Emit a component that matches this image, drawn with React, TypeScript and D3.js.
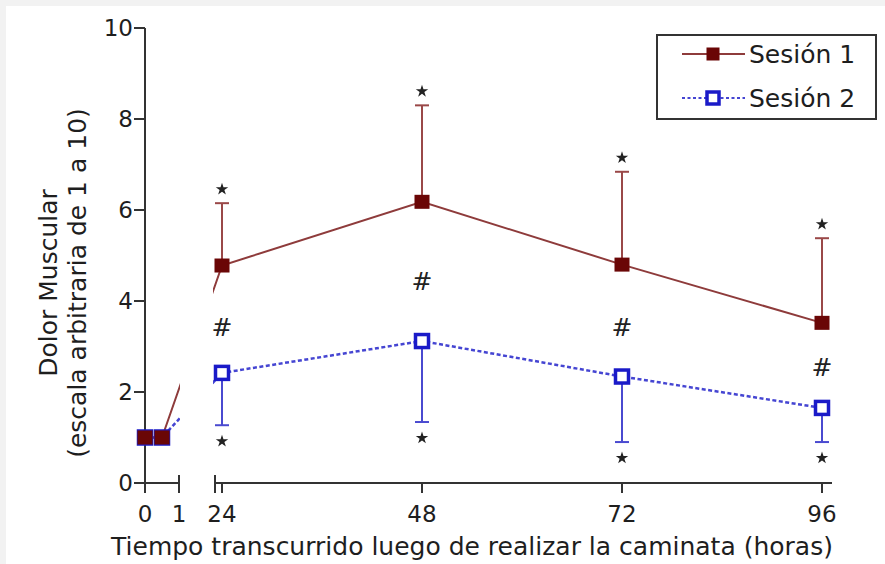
import React from "react";
import * as d3 from "d3";

const hours = [0, 0.5, 24, 48, 72, 96];
const session1 = [1.0, 1.0, 4.78, 6.18, 4.8, 3.52];
const session2 = [1.0, 1.0, 2.42, 3.12, 2.34, 1.65];
const session1Upper = [null, null, 6.15, 8.3, 6.84, 5.38];
const session2Lower = [null, null, 1.27, 1.34, 0.9, 0.9];
const hashHours = [24, 48, 72, 96];
const hashValues = [3.43, 4.45, 3.43, 2.55];
const yTicks = [0, 2, 4, 6, 8, 10];
const xTicksA = [0, 1];
const xTicksB = [24, 48, 72, 96];
const seriesNames = ["Sesión 1", "Sesión 2"];
const xTitle = "Tiempo transcurrido luego de realizar la caminata (horas)";
const yTitle1 = "Dolor Muscular";
const yTitle2 = "(escala arbitraria de 1 a 10)";

const W = 885;
const H = 564;
const FONT = "'DejaVu Sans', Verdana, sans-serif";
const RED_LINE = "#8e3b3b";
const RED_FILL = "#6a0606";
const RED_BAR = "#9a4848";
const BLUE_LINE = "#4545d2";
const BLUE_MARK = "#1a1ac8";
const BLUE_BAR = "#4a4ad0";
const AXIS = "#333";
const TEXT = "#1e1e1e";

export default function App() {
  const x = d3.scaleLinear().domain([0, 1, 24, 96]).range([145, 179, 222, 822]);
  const y = d3.scaleLinear().domain([0, 10]).range([483, 28]);
  const y0 = y(0);

  const pts1 = hours.map((h, i) => [x(h), y(session1[i])] as [number, number]);
  const pts2 = hours.map((h, i) => [x(h), y(session2[i])] as [number, number]);
  const line = d3.line();

  const star = d3.symbol().type(d3.symbolStar).size(48)();
  const mk = 13;

  return (
    <svg
      width={W}
      height={H}
      style={{ position: "absolute", left: 0, top: 0, background: "#fff" }}
      fontFamily={FONT}
    >
      <rect x={0} y={0} width={W} height={6} fill="#f2f2f2" />
      <rect x={0} y={0} width={6} height={H} fill="#f2f2f2" />
      <defs>
        <clipPath id="gapclip">
          <rect x={0} y={0} width={180} height={H} />
          <rect x={213} y={0} width={W} height={H} />
        </clipPath>
      </defs>

      {/* Y axis */}
      <line x1={x(0)} x2={x(0)} y1={y(10)} y2={y0 + 10} stroke={AXIS} strokeWidth={2} />
      {yTicks.map((t) => (
        <g key={"yt" + t}>
          <line x1={x(0) - 11} x2={x(0)} y1={y(t)} y2={y(t)} stroke={AXIS} strokeWidth={2} />
          <text x={x(0) - 12} y={y(t)} dy="0.36em" textAnchor="end" fontSize={23} fill={TEXT}>
            {t}
          </text>
        </g>
      ))}

      {/* X axis segment A */}
      <line x1={x(0)} x2={x(1)} y1={y0} y2={y0} stroke={AXIS} strokeWidth={2} />
      <line x1={x(1)} x2={x(1)} y1={y0 - 8} y2={y0 + 10} stroke={AXIS} strokeWidth={2} />
      {/* X axis segment B */}
      <line x1={215} x2={832} y1={y0} y2={y0} stroke={AXIS} strokeWidth={2} />
      <line x1={215} x2={215} y1={y0 - 8} y2={y0 + 10} stroke={AXIS} strokeWidth={2} />
      {xTicksB.map((t) => (
        <line key={"xt" + t} x1={x(t)} x2={x(t)} y1={y0} y2={y0 + 10} stroke={AXIS} strokeWidth={2} />
      ))}
      {[...xTicksA, ...xTicksB].map((t) => (
        <text key={"xl" + t} x={x(t)} y={522} textAnchor="middle" fontSize={23} fill={TEXT}>
          {t}
        </text>
      ))}

      {/* Axis titles */}
      <text x={472} y={555} textAnchor="middle" fontSize={25} fill={TEXT}>
        {xTitle}
      </text>
      <text transform="translate(48,283) rotate(-90)" textAnchor="middle" dy="0.35em" fontSize={25} fill={TEXT}>
        {yTitle1}
      </text>
      <text transform="translate(77,283) rotate(-90)" textAnchor="middle" dy="0.35em" fontSize={25} fill={TEXT}>
        {yTitle2}
      </text>

      {/* Error bars */}
      {hours.map((h, i) =>
        session1Upper[i] == null ? null : (
          <g key={"e1" + i}>
            <line x1={x(h)} x2={x(h)} y1={y(session1[i])} y2={y(session1Upper[i] as number)} stroke={RED_BAR} strokeWidth={2} />
            <line x1={x(h) - 7} x2={x(h) + 7} y1={y(session1Upper[i] as number)} y2={y(session1Upper[i] as number)} stroke={RED_BAR} strokeWidth={2} />
            <path d={star as string} transform={`translate(${x(h)},${y(session1Upper[i] as number) - 14})`} fill="#222" />
          </g>
        )
      )}
      {hours.map((h, i) =>
        session2Lower[i] == null ? null : (
          <g key={"e2" + i}>
            <line x1={x(h)} x2={x(h)} y1={y(session2[i])} y2={y(session2Lower[i] as number)} stroke={BLUE_BAR} strokeWidth={2} />
            <line x1={x(h) - 7} x2={x(h) + 7} y1={y(session2Lower[i] as number)} y2={y(session2Lower[i] as number)} stroke={BLUE_BAR} strokeWidth={2} />
            <path d={star as string} transform={`translate(${x(h)},${y(session2Lower[i] as number) + 16})`} fill="#222" />
          </g>
        )
      )}

      {/* Hash marks */}
      {hashHours.map((h, i) => (
        <text key={"h" + h} x={x(h)} y={y(hashValues[i])} dy="0.36em" textAnchor="middle" fontSize={25} fill="#222">
          #
        </text>
      ))}

      {/* Lines */}
      <g clipPath="url(#gapclip)">
        <path d={line(pts2) as string} fill="none" stroke={BLUE_LINE} strokeWidth={2.5} strokeDasharray="4,2.5" />
        <path d={line(pts1) as string} fill="none" stroke={RED_LINE} strokeWidth={2} />
      </g>

      {/* Markers session 2 (under) */}
      {pts2.map(([px, py], i) => (
        <rect key={"m2" + i} x={px - mk / 2} y={py - mk / 2} width={mk} height={mk} fill="#fff" stroke={BLUE_MARK} strokeWidth={3.5} />
      ))}
      {/* Markers session 1 */}
      {pts1.map(([px, py], i) => (
        <rect key={"m1" + i} x={px - 7.5} y={py - 7} width={15} height={14} fill={RED_FILL} />
      ))}

      {/* Legend */}
      <rect x={657} y={35} width={219} height={84} fill="#fff" stroke={AXIS} strokeWidth={2} />
      <line x1={682} x2={745} y1={54} y2={54} stroke={RED_LINE} strokeWidth={2} />
      <rect x={713 - 6.5} y={54 - 6.5} width={13} height={13} fill={RED_FILL} />
      <text x={749} y={54} dy="0.36em" fontSize={25} fill={TEXT}>
        {seriesNames[0]}
      </text>
      <line x1={682} x2={745} y1={98} y2={98} stroke={BLUE_LINE} strokeWidth={2} strokeDasharray="3,2.5" />
      <rect x={713 - 6} y={98 - 6} width={12} height={12} fill="#fff" stroke={BLUE_MARK} strokeWidth={3.5} />
      <text x={749} y={98} dy="0.36em" fontSize={25} fill={TEXT}>
        {seriesNames[1]}
      </text>
    </svg>
  );
}
